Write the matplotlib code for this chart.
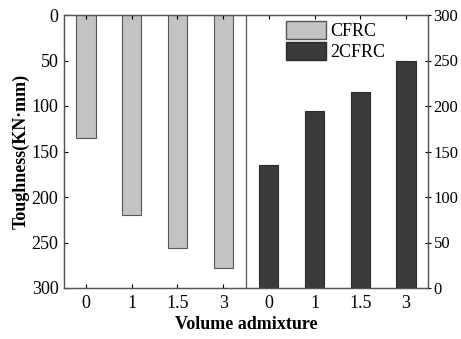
import numpy as np
import matplotlib
matplotlib.use('Agg')
import matplotlib.pyplot as plt
from matplotlib.patches import Patch

# data
dosage = ['0', '1', '1.5', '3']
cfrc = [135, 220, 256, 278]
cfrc2 = [135, 195, 215, 250]

plt.rcParams['font.family'] = ['Liberation Serif', 'DejaVu Serif']

fig = plt.figure(figsize=(4.61, 3.39), dpi=100)
ax = fig.add_axes([64/461, 1-288/339, (428-64)/461, (288-15)/339])
ax2 = ax.twinx()

pos_left = np.arange(len(dosage))
pos_right = np.arange(len(dosage)) + len(dosage)
w = 0.42

# CFRC hanging from the top (inverted left axis)
ax.bar(pos_left, cfrc, width=w, color='#c3c3c3', edgecolor='#555555', linewidth=0.8)
ax.set_ylim(300, 0)
ax.set_yticks([0, 50, 100, 150, 200, 250, 300])

# 2CFRC on the right axis
ax2.bar(pos_right, cfrc2, width=w, color='#3b3b3b', edgecolor='#2a2a2a', linewidth=0.8)
ax2.set_ylim(0, 300)
ax2.set_yticks([0, 50, 100, 150, 200, 250, 300])

ax.set_xlim(-0.48, 7.48)
ax.set_xticks(np.concatenate([pos_left, pos_right]))
ax.set_xticklabels(dosage + dosage)
ax.axvline(3.5, color='#555555', linewidth=0.9)

ax.tick_params(axis='x', direction='in', top=True, length=3, labelsize=13, pad=5)
ax.tick_params(axis='y', direction='in', length=3, labelsize=13, pad=4)
ax2.tick_params(axis='y', direction='inout', length=4, labelsize=12, pad=2)
for a in (ax, ax2):
    for s in a.spines.values():
        s.set_color('#555555')
        s.set_linewidth(0.9)

ax.set_ylabel('Toughness(KN·mm)', fontsize=13, fontweight='bold', labelpad=1)
ax.set_xlabel('Volume admixture', fontsize=13, fontweight='bold', labelpad=3)

handles = [Patch(facecolor='#c3c3c3', edgecolor='#555555', label='CFRC'),
           Patch(facecolor='#3b3b3b', edgecolor='#2a2a2a', label='2CFRC')]
ax2.legend(handles=handles, loc='upper left', bbox_to_anchor=(0.6, 0.99),
           frameon=False, fontsize=13, handlelength=2.2, handleheight=1.1,
           handletextpad=0.25, labelspacing=0.12, borderaxespad=0.0,
           borderpad=0.2)

fig.savefig('out.png', dpi=100)
